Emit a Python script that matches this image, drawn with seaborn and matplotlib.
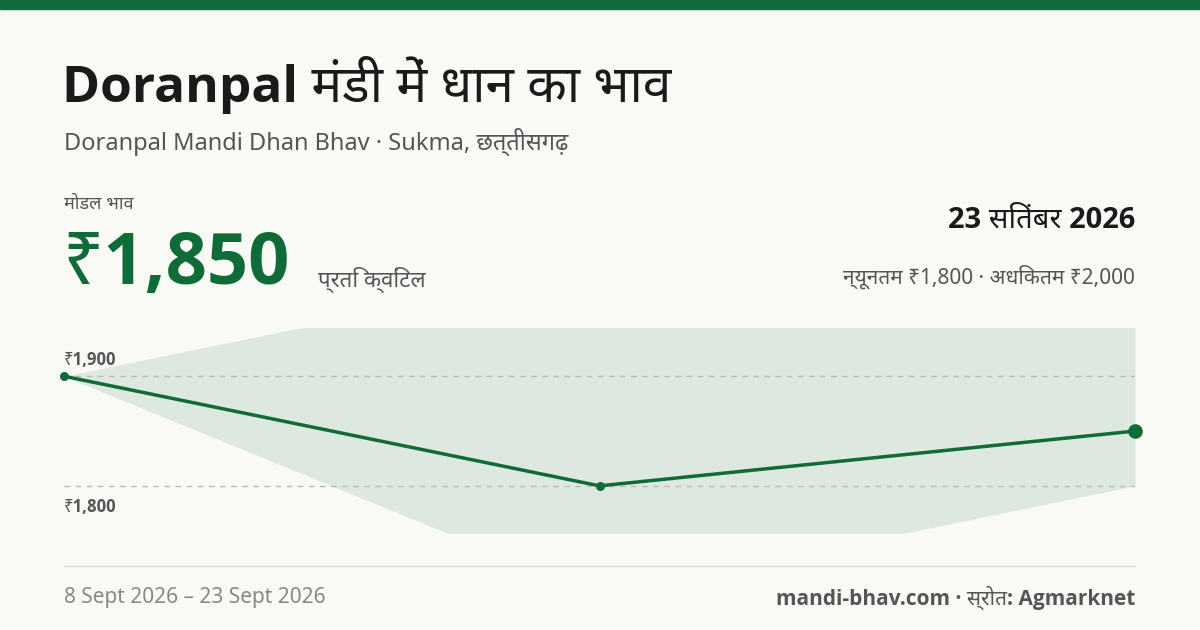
import matplotlib
matplotlib.use("Agg")
import matplotlib.pyplot as plt
import seaborn as sns
import pandas as pd

# data
dates = ["8 Sept 2026", "16 Sept 2026", "23 Sept 2026"]
modal_price = [1900, 1800, 1850]
min_price = [1900, 1700, 1800]
max_price = [1900, 2000, 2000]
ref_levels = [1900, 1800]

sns.set_theme(style="white")
plt.rcParams['font.family'] = ['Noto Sans', 'DejaVu Sans']
BOLD = ['Open Sans', 'Noto Sans', 'DejaVu Sans']

GREEN = "#0f6b37"
BG = "#f9f9f6"
df = pd.DataFrame({"x": range(len(dates)), "modal": modal_price,
                   "lo": min_price, "hi": max_price})

fig = plt.figure(figsize=(12, 6.3), dpi=100, facecolor=BG)
fig.add_artist(plt.Rectangle((0, 0.986), 1, 0.014, color=GREEN, transform=fig.transFigure))

W, H = 1200, 630
def ft(x, y, s, **kw):
    fig.text(x / W, 1 - y / H, s, **kw)

ft(62, 85, "Doranpal मंडी में धान का भाव", fontsize=37, weight="bold", family=BOLD, color="#1a1a1a", va="center")
ft(64, 142, "Doranpal Mandi Dhan Bhav · Sukma, छत्तीसगढ़", fontsize=17, color="#555555", va="center")
ft(64, 204, "मोडल भाव", fontsize=13, color="#555555", va="center")
ft(62, 265, "₹1,850", fontsize=52, weight="bold", family=BOLD, color=GREEN, va="center")
ft(318, 280, "प्रति क्विंटल", fontsize=16, color="#555555", va="center")
ft(1135, 220, "23 सितंबर 2026", fontsize=21, weight="bold", family=BOLD, color="#1a1a1a", va="center", ha="right")
ft(1135, 277, "न्यूनतम ₹1,800 · अधिकतम ₹2,000", fontsize=15, color="#555555", va="center", ha="right")
ft(64, 598, "8 Sept 2026 – 23 Sept 2026", fontsize=15, color="#888888", va="center")
ft(1135, 598, "mandi-bhav.com · स्रोत: Agmarknet", fontsize=15, weight="bold", family=BOLD, color="#555555", va="center", ha="right")
fig.add_artist(plt.Line2D([64 / W, 1135 / W], [1 - 566 / H] * 2, color="#dddddd", lw=1))

ax = fig.add_axes([64 / W, 1 - 533 / H, (1135 - 64) / W, (533 - 328) / H])
ax.set_facecolor(BG)
ax.fill_between(df["x"], df["lo"], df["hi"], color="#dde8e0", lw=0)
for lv in ref_levels:
    ax.axhline(lv, color="#bbbbbb", ls=(0, (4, 4)), lw=1)
sns.lineplot(data=df, x="x", y="modal", ax=ax, color=GREEN, lw=2.5)
ax.scatter(df["x"][:-1], df["modal"][:-1], s=30, color=GREEN, zorder=5, clip_on=False)
ax.scatter(df["x"].iloc[-1:], df["modal"].iloc[-1:], s=90, color=GREEN, zorder=5, clip_on=False)
ax.set_xlim(0, len(dates) - 1)
ax.set_ylim(1757, 1944)
for lv, dy in zip(ref_levels, [12, -15]):
    ax.annotate(f"₹{lv:,}", (0, lv), xytext=(0, dy), textcoords="offset points",
                fontsize=12, weight="bold", family=BOLD, color="#555555", va="center",
                annotation_clip=False)
ax.set_axis_off()

fig.savefig("out.png", dpi=100, facecolor=BG)
